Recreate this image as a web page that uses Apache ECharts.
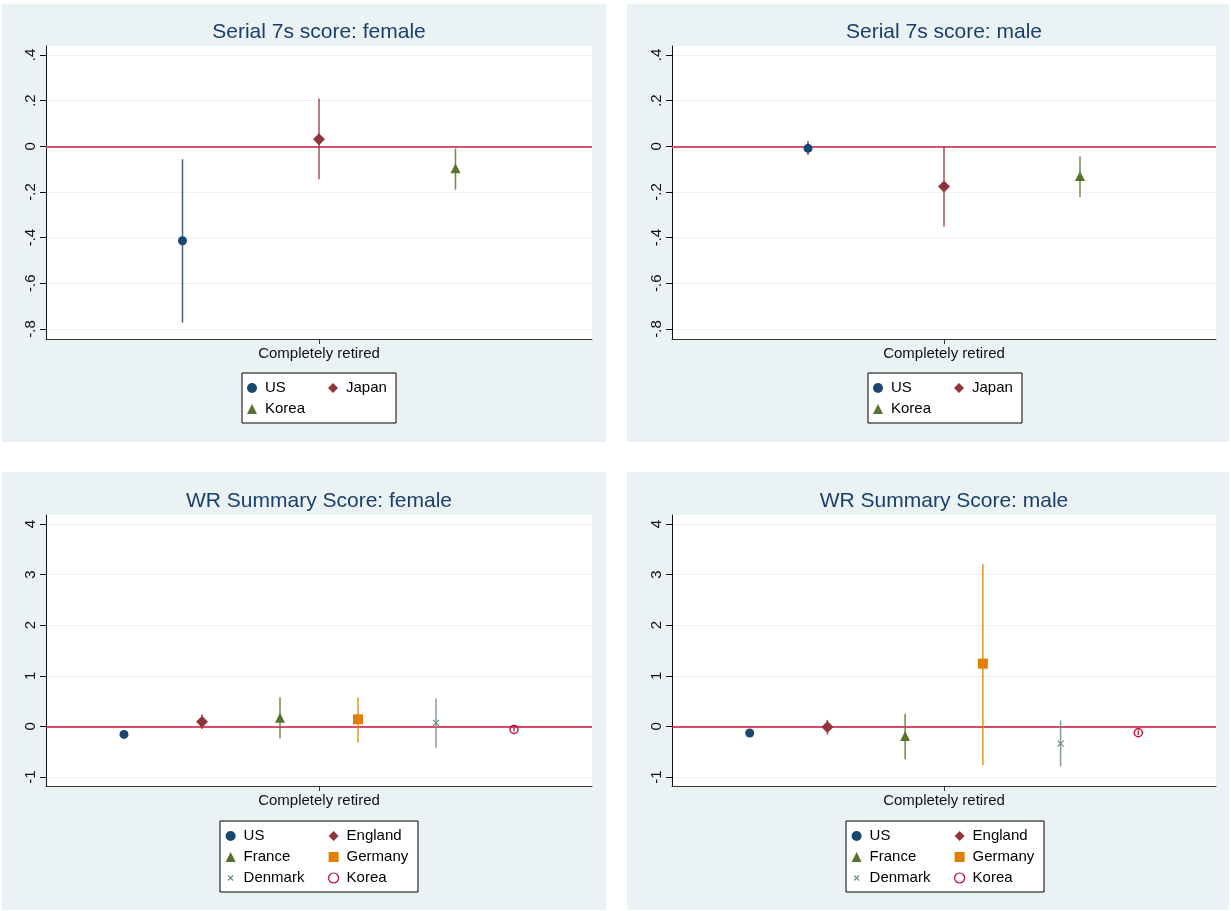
<!DOCTYPE html>
<html>
<head>
<meta charset="utf-8">
<title>Completely retired: Serial 7s and WR summary score</title>
<script src="https://cdn.jsdelivr.net/npm/echarts@6/dist/echarts.min.js"></script>
<style>
  html, body { margin: 0; padding: 0; background: #fff; }
  body { width: 1231px; height: 911px; position: relative; overflow: hidden; }
  .panel { position: absolute; }
</style>
</head>
<body>
<div id="s7f" class="panel" style="left:2px;top:4px;width:604px;height:438px"></div>
<div id="s7m" class="panel" style="left:627px;top:4px;width:602px;height:438px"></div>
<div id="wrf" class="panel" style="left:2px;top:472px;width:604px;height:438px"></div>
<div id="wrm" class="panel" style="left:627px;top:472px;width:602px;height:438px"></div>
<script>
// ---- data ----
const xCategory = "Completely retired";

// Serial 7s score
const s7Countries = ["US", "Japan", "Korea"];
const s7Slots = [-1, 0, 1];
const s7FemaleCoef = [-0.414, 0.031, -0.096];
const s7FemaleLo = [-0.772, -0.144, -0.19];
const s7FemaleHi = [-0.057, 0.209, -0.01];
const s7MaleCoef = [-0.009, -0.176, -0.13];
const s7MaleLo = [-0.038, -0.353, -0.222];
const s7MaleHi = [0.023, 0.0, -0.045];
const s7Ticks = [-0.8, -0.6, -0.4, -0.2, 0, 0.2, 0.4];

// WR summary score
const wrCountries = ["US", "England", "France", "Germany", "Denmark", "Korea"];
const wrSlots = [-2.5, -1.5, -0.5, 0.5, 1.5, 2.5];
const wrFemaleCoef = [-0.158, 0.093, 0.17, 0.14, 0.07, -0.06];
const wrFemaleLo = [-0.2, -0.05, -0.24, -0.32, -0.42, -0.1];
const wrFemaleHi = [-0.11, 0.24, 0.57, 0.57, 0.55, -0.02];
const wrMaleCoef = [-0.13, -0.01, -0.19, 1.24, -0.34, -0.125];
const wrMaleLo = [-0.17, -0.16, -0.65, -0.77, -0.79, -0.17];
const wrMaleHi = [-0.09, 0.13, 0.25, 3.21, 0.12, -0.08];
const wrTicks = [-1, 0, 1, 2, 3, 4];

// ---- styles (stata s2color look) ----
const FONT = "'Liberation Sans', Arial, Helvetica, sans-serif";
const markers = {
  US: { symbol: "circle", size: 9, color: "#1a476f" },
  Japan: { symbol: "diamond", size: 12, color: "#90353b" },
  England: { symbol: "diamond", size: 12, color: "#90353b" },
  Korea: { symbol: "triangle", size: 10, color: "#55752f" },
  France: { symbol: "triangle", size: 10, color: "#55752f" },
  Germany: { symbol: "rect", size: 10, color: "#e37e00" },
  Denmark: {
    symbol: "path://M0,0L10,10M10,0L0,10", size: 6, color: "#6e8e84", border: 1.3,
    // smaller cross inside a 10x10 box for the legend
    legendIcon: "path://M0,0L0,0M2.5,2.5L7.5,7.5M7.5,2.5L2.5,7.5M10,10L10,10",
  },
  KoreaHollow: { symbol: "circle", size: 8, color: "#c10534", hollow: true },
};

const stataLabel = (v) => {
  if (Math.abs(v) < 1e-9) return "0";
  return String(+v.toFixed(2)).replace(/^(-?)0\./, "$1.");
};

function buildOption(p) {
  const series = [];
  p.names.forEach((name, i) => {
    const m = p.marks[i];
    series.push({
      type: "custom",
      name: name + " CI",
      silent: true,
      z: 2,
      data: [[p.slots[i], p.lo[i], p.hi[i]]],
      encode: { x: 0, y: [1, 2] },
      renderItem: (params, api) => {
        const x = api.value(0);
        const a = api.coord([x, api.value(1)]);
        const b = api.coord([x, api.value(2)]);
        return {
          type: "line",
          shape: { x1: a[0], y1: a[1], x2: b[0], y2: b[1] },
          style: { stroke: m.color, lineWidth: 1.5, opacity: 0.85 },
        };
      },
      markLine: i === 0 ? {
        silent: true,
        z: 1,
        symbol: ["none", "none"],
        label: { show: false },
        lineStyle: { color: p.zeroColor, width: p.zeroWidth, type: "solid", opacity: 1 },
        data: [{ yAxis: 0 }],
      } : undefined,
    });
  });
  p.names.forEach((name, i) => {
    const m = p.marks[i];
    series.push({
      type: "scatter",
      name: name,
      z: 3,
      symbol: m.symbol,
      symbolSize: m.size,
      data: [[p.slots[i], p.coef[i]]],
      itemStyle: m.hollow
        ? { color: "rgba(255,255,255,0)", borderColor: m.color, borderWidth: 1.4, opacity: 1 }
        : m.border
        ? { color: m.color, borderColor: m.color, borderWidth: m.border, opacity: 1 }
        : { color: m.color, opacity: 1 },
    });
  });

  const legendBase = {
    orient: "vertical",
    padding: 0,
    itemWidth: 10,
    itemHeight: 10,
    itemGap: 5,
    selectedMode: false,
    z: 10,
    textStyle: { fontFamily: FONT, fontSize: 15, lineHeight: 16, color: "#000", padding: [0, 0, 0, 3] },
  };
  const legendItem = (name, i) => {
    const m = p.marks[i];
    const item = { name: name };
    if (m.hollow || m.border) item.itemStyle = { borderWidth: 1.2 };
    if (m.legendIcon) item.icon = m.legendIcon;
    return item;
  };
  const col1 = p.names.map(legendItem).filter((_, i) => i % 2 === 0);
  const col2 = p.names.map(legendItem).filter((_, i) => i % 2 === 1);

  return {
    animation: false,
    backgroundColor: "#eaf2f3",
    textStyle: { fontFamily: FONT },
    grid: {
      left: p.grid[0], top: p.grid[1], width: p.grid[2], height: p.grid[3],
      show: true, backgroundColor: "#fff", borderWidth: 0,
    },
    graphic: [
      {
        type: "text",
        x: p.grid[0] + p.grid[2] / 2,
        y: p.titleY,
        style: {
          text: p.title,
          font: "21px " + FONT,
          fill: "#1a3f6b",
          textAlign: "center",
          textVerticalAlign: "middle",
        },
      },
      {
        type: "rect",
        z: 1,
        shape: { x: p.box[0], y: p.box[1], width: p.box[2], height: p.box[3] },
        style: { fill: "#fff", stroke: "#000", lineWidth: 1 },
      },
    ],
    legend: [
      Object.assign({}, legendBase, { data: col1, left: p.col1[0], top: p.col1[1] }),
      Object.assign({}, legendBase, { data: col2, left: p.col2[0], top: p.col2[1] }),
    ],
    xAxis: {
      type: "value",
      min: p.xRange[0],
      max: p.xRange[1],
      axisLine: { show: true, onZero: false, lineStyle: { color: "#333", width: 1 } },
      axisTick: { show: true, length: 5, customValues: [0], lineStyle: { color: "#333" } },
      axisLabel: {
        customValues: [0],
        formatter: () => xCategory,
        margin: 7,
        fontSize: 15,
        color: "#111",
        fontFamily: FONT,
      },
      splitLine: { show: false },
    },
    yAxis: {
      type: "value",
      min: p.yRange[0],
      max: p.yRange[1],
      splitNumber: p.splitNumber,
      axisLine: { show: true, onZero: false, lineStyle: { color: "#111", width: 1 } },
      axisTick: { show: true, length: 6, customValues: p.ticks, lineStyle: { color: "#111" } },
      axisLabel: {
        customValues: p.ticks,
        rotate: 90,
        margin: 8,
        fontSize: 15,
        color: "#111",
        fontFamily: FONT,
        formatter: stataLabel,
      },
      splitLine: { show: true, lineStyle: { color: "#eaf2f3", width: 1 } },
    },
    series: series,
  };
}

const topCommon = {
  names: s7Countries,
  marks: s7Countries.map((c) => markers[c]),
  slots: s7Slots,
  ticks: s7Ticks,
  yRange: [-0.844, 0.439],
  xRange: [-2, 2],
  splitNumber: 6,
  zeroColor: "#d4536f",
  zeroWidth: 2,
  titleY: 28,
};
const bottomCommon = {
  names: wrCountries,
  marks: wrCountries.map((c) => (c === "Korea" ? markers.KoreaHollow : markers[c])),
  slots: wrSlots,
  ticks: wrTicks,
  yRange: [-1.178, 4.178],
  xRange: [-3.5, 3.5],
  splitNumber: 5,
  zeroColor: "#d20f3a",
  zeroWidth: 1.5,
  titleY: 29,
};

// icon centre of each legend column sits 5px right of its left edge
const panels = [
  ["s7f", Object.assign({}, topCommon, {
    title: "Serial 7s score: female",
    coef: s7FemaleCoef, lo: s7FemaleLo, hi: s7FemaleHi,
    grid: [44, 42, 546, 293],
    box: [240, 369, 154, 50], col1: [245, 376], col2: [326, 376],
  })],
  ["s7m", Object.assign({}, topCommon, {
    title: "Serial 7s score: male",
    coef: s7MaleCoef, lo: s7MaleLo, hi: s7MaleHi,
    grid: [45, 42, 544, 293],
    box: [241, 369, 154, 50], col1: [246, 376], col2: [327, 376],
  })],
  ["wrf", Object.assign({}, bottomCommon, {
    title: "WR Summary Score: female",
    coef: wrFemaleCoef, lo: wrFemaleLo, hi: wrFemaleHi,
    grid: [44, 43, 546, 271],
    box: [218, 349, 198, 71], col1: [223, 356], col2: [326, 356],
  })],
  ["wrm", Object.assign({}, bottomCommon, {
    title: "WR Summary Score: male",
    coef: wrMaleCoef, lo: wrMaleLo, hi: wrMaleHi,
    grid: [45, 43, 544, 271],
    box: [219, 349, 198, 71], col1: [224, 356], col2: [327, 356],
  })],
];

panels.forEach(([id, cfg]) => {
  const chart = echarts.init(document.getElementById(id), null, { renderer: "canvas" });
  chart.setOption(buildOption(cfg));
});
</script>
</body>
</html>
